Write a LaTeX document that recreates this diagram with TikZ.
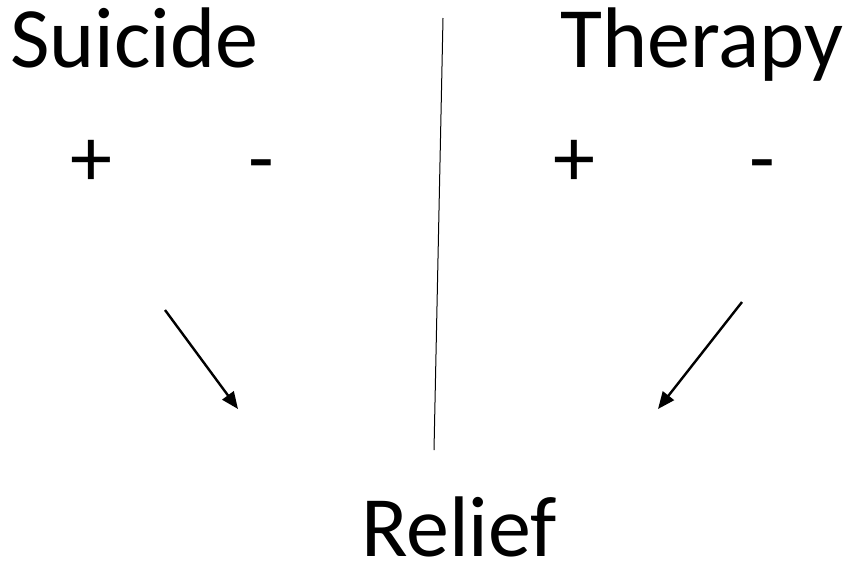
\documentclass[tikz,border=0pt]{standalone}
\usepackage{fontspec}
\setmainfont{Carlito}
\usetikzlibrary{arrows.meta}
\begin{document}
\begin{tikzpicture}[x=1pt,y=1pt,
  big/.style={inner sep=0pt,text depth=0pt,font=\fontsize{86}{90}\selectfont},
  sign/.style={inner sep=0pt,text depth=0pt,font=\fontsize{84}{90}\selectfont},
  arr/.style={line width=2.4pt,-{Triangle[length=17pt,width=14pt]}},
  divider/.style={line width=1pt}]
\useasboundingbox (0,0) rectangle (843,-566);
\node[big,anchor=base west] (suicide) at (10,-67) {Suicide};
\node[big,anchor=base west] (therapy) at (560,-67) {Therapy};
\node[big,anchor=base west] (relief) at (361,-556) {Relief};
\node[sign,anchor=base] (sp) at (91,-186) {+};
\node[sign,anchor=base] (sm) at (261,-186) {-};
\node[sign,anchor=base] (tp) at (574,-186) {+};
\node[sign,anchor=base] (tm) at (762,-186) {-};
\coordinate (d1) at (443,-18);
\coordinate (d2) at (434,-450);
\draw[divider] (d1) -- (d2);
\coordinate (a1s) at (165,-310);
\coordinate (a1e) at (238,-409);
\coordinate (a2s) at (742,-302);
\coordinate (a2e) at (658,-409);
\draw[arr] (a1s) -- (a1e);
\draw[arr] (a2s) -- (a2e);
\end{tikzpicture}
\end{document}
